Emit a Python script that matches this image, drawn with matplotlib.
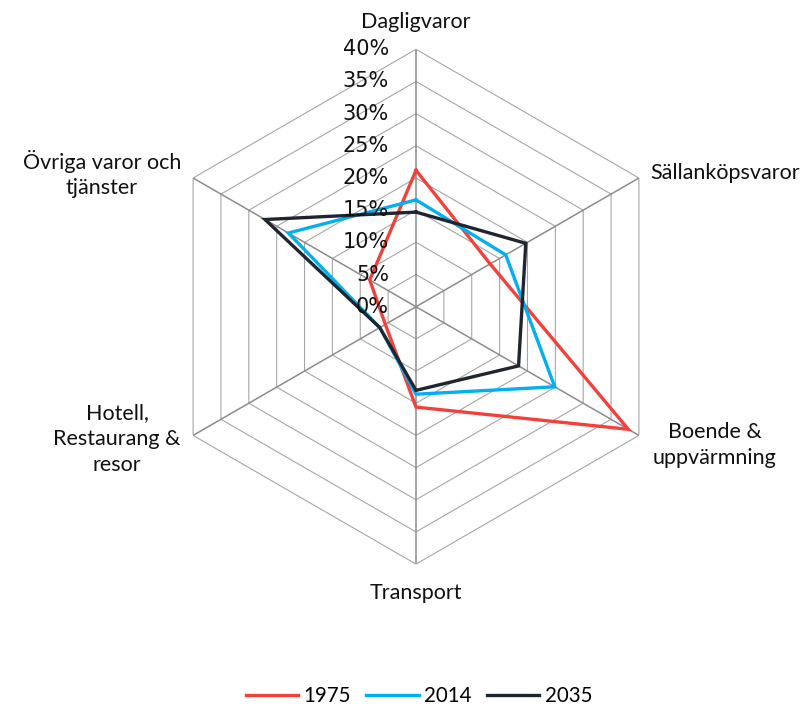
import numpy as np
import matplotlib
matplotlib.use("Agg")
import matplotlib.pyplot as plt
from matplotlib.lines import Line2D
from matplotlib.transforms import offset_copy

# ---- data ----
categories = ["Dagligvaror", "Sällanköpsvaror", "Boende &\nuppvärmning",
              "Transport", "Hotell,\nRestaurang &\nresor", "Övriga varor och\ntjänster"]
years = ["1975", "2014", "2035"]
values_1975 = [21.2, 13.3, 38.1, 15.6, 5.5, 8.3]
values_2014 = [16.6, 16.1, 24.9, 13.6, 6.5, 22.9]
values_2035 = [14.7, 19.7, 18.4, 13.0, 6.5, 27.1]
tick_values = [0, 5, 10, 15, 20, 25, 30, 35, 40]
tick_labels = ["0%", "5%", "10%", "15%", "20%", "25%", "30%", "35%", "40%"]

colors = ["#F2413A", "#00B0F0", "#1F2630"]

W, H = 809, 706
DPI = 100
fig = plt.figure(figsize=(W / DPI, H / DPI), dpi=DPI)

cx, cy, R = 416, 306.7, 257.4
ax = fig.add_axes([(cx - R) / W, (H - cy - R) / H, 2 * R / W, 2 * R / H],
                  projection="polar")
ax.set_theta_offset(np.pi / 2)
ax.set_theta_direction(-1)
ax.set_ylim(0, 40)
ax.grid(False)
ax.spines["polar"].set_visible(False)
ax.set_xticks([])
ax.set_yticks([])
ax.patch.set_alpha(0)

n = len(categories)
theta = np.arange(n) * 2 * np.pi / n
theta_closed = np.append(theta, theta[0])

# hexagonal grid rings
for t in tick_values[1:]:
    ax.plot(theta_closed, [t] * (n + 1), color="#A6A6A6", lw=0.8, zorder=1)
# spokes
for th in theta:
    ax.plot([th, th], [0, 40], color="#8C8C8C", lw=1.1, zorder=1)

# series
for vals, c, lab in zip([values_1975, values_2014, values_2035], colors, years):
    v = np.append(vals, vals[0])
    ax.plot(theta_closed, v, color=c, lw=2.4, zorder=3, label=lab,
            solid_joinstyle="miter")

# radial tick labels, left of the vertical axis
tr = offset_copy(ax.transData, fig=fig, x=-27, y=0, units="dots")
for t, lab in zip(tick_values, tick_labels):
    ax.text(0, t, lab, transform=tr, ha="right", va="center",
            fontsize=15, family="DejaVu Sans", color="#111111", zorder=4)

# category labels (pixel positions)
cat_pos = [(416, 22, "center"), (650, 173, "left"), (715, 445, "center"),
           (416, 593, "center"), (117, 439, "center"), (102, 174, "center")]
for lab, (px, py, ha) in zip(categories, cat_pos):
    fig.text(px / W, 1 - py / H, lab, ha=ha, va="center", fontsize=15.5,
             family="Lato", color="#111111", linespacing=1.35)

handles = [Line2D([0], [0], color=c, lw=2.4) for c in colors]
fig.legend(handles, years, loc="center", bbox_to_anchor=(419 / W, 1 - 696 / H),
           ncol=3, frameon=False, handlelength=2.55, handletextpad=0.25,
           columnspacing=0.75, prop={"family": "Lato", "size": 14.8})

fig.savefig("out.png", dpi=DPI)
